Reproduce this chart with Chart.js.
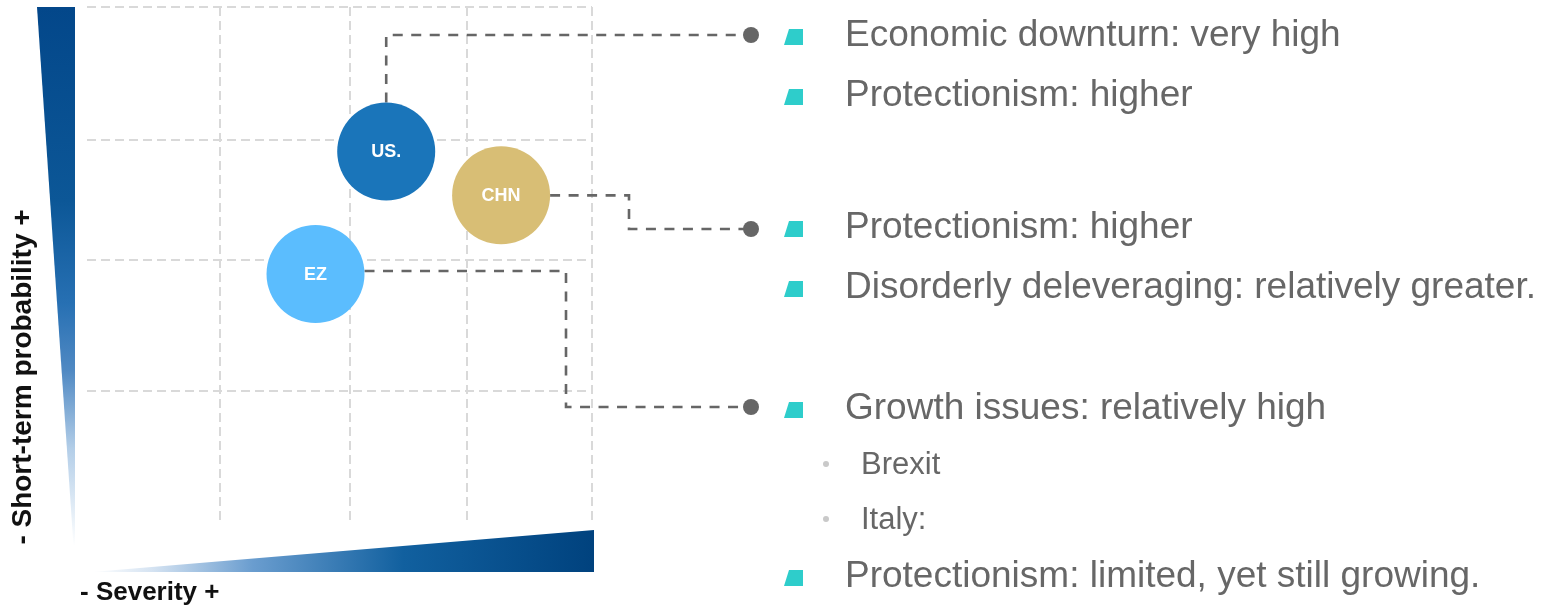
<!DOCTYPE html>
<html><head><meta charset="utf-8">
<script src="https://cdn.jsdelivr.net/npm/chart.js@4/dist/chart.umd.min.js"></script>
<style>html,body{margin:0;padding:0;background:#fff;overflow:hidden}#wrap{position:relative;width:1544px;height:606px}</style>
</head><body><div id="wrap"><canvas id="c" width="1544" height="606"></canvas></div>
<script>
// ---- data ----
const countries = ["US.", "CHN", "EZ"];
const severity = [2.37, 3.28, 1.81];
const probability = [2.88, 2.54, 1.93];
const bubbleRadius = [49, 49, 49];
const bubbleColors = ["#1A75BA", "#D8BE75", "#5BBDFE"];
const xGridTicks = [1.05, 2.08, 3.01, 4];
const yGridTicks = [1.02, 2.04, 2.97, 4];
const xAxisTitle = "- Severity +";
const yAxisTitle = "- Short-term probability +";
const usNotes = ["Economic downturn: very high", "Protectionism: higher"];
const chnNotes = ["Protectionism: higher", "Disorderly deleveraging: relatively greater."];
const ezNotes = ["Growth issues: relatively high"];
const ezSubNotes = ["Brexit", "Italy:"];
const ezNotes2 = ["Protectionism: limited, yet still growing."];

// ---- layout ----
const FONT = '"Liberation Sans", Arial, sans-serif';
const TEXT_X = 845, SUB_X = 861, BULLET_X = 784, SUBDOT_X = 826, DOT_X = 751;
const lines = [
  {t: usNotes[0], lvl: 1, y: 36},
  {t: usNotes[1], lvl: 1, y: 96},
  {t: chnNotes[0], lvl: 1, y: 228},
  {t: chnNotes[1], lvl: 1, y: 288},
  {t: ezNotes[0], lvl: 1, y: 409},
  {t: ezSubNotes[0], lvl: 2, y: 465},
  {t: ezSubNotes[1], lvl: 2, y: 520},
  {t: ezNotes2[0], lvl: 1, y: 577}
];
const links = [ // bubble index -> anchor line
  {i: 0, dotY: 35, route: 'up'},
  {i: 1, dotY: 229, route: 'right', elbowX: 629, dy: 0},
  {i: 2, dotY: 407, route: 'right', elbowX: 566, dy: -3}
];

const decorPlugin = {
  id: 'decor',
  beforeDraw(chart) {
    const ctx = chart.ctx, ca = chart.chartArea;
    ctx.save();
    // vertical gradient wedge
    const top = ca.top, bot = 546;
    let g = ctx.createLinearGradient(0, top, 0, bot);
    g.addColorStop(0, '#03478A'); g.addColorStop(0.36, '#0C5797'); g.addColorStop(0.55, '#2770B3');
    g.addColorStop(0.675, '#5089C3'); g.addColorStop(0.82, '#B3CEE8'); g.addColorStop(1, '#FFFFFF');
    ctx.fillStyle = g;
    ctx.beginPath();
    ctx.moveTo(37, top); ctx.lineTo(75, top); ctx.lineTo(75, bot); ctx.lineTo(73.5, bot); ctx.closePath(); ctx.fill();
    // horizontal gradient wedge
    const L = 92, R = 594, yb = 572, yt = 530;
    g = ctx.createLinearGradient(L, 0, R, 0);
    g.addColorStop(0, '#FFFFFF'); g.addColorStop(0.12, '#D5E3F2'); g.addColorStop(0.32, '#6A9DCF');
    g.addColorStop(0.62, '#11609F'); g.addColorStop(1, '#00427E');
    ctx.fillStyle = g;
    ctx.beginPath(); ctx.moveTo(L, yb); ctx.lineTo(R, yt); ctx.lineTo(R, yb); ctx.closePath(); ctx.fill();
    // axis titles
    ctx.fillStyle = '#111';
    ctx.textBaseline = 'middle';
    ctx.textAlign = 'left';
    ctx.font = 'bold 26px ' + FONT;
    ctx.fillText(xAxisTitle, 80, 593);
    ctx.font = 'bold 28px ' + FONT;
    ctx.translate(23, 377); ctx.rotate(-Math.PI / 2);
    ctx.textAlign = 'center';
    ctx.fillText(yAxisTitle, 0, 0);
    ctx.restore();
  },
  beforeDatasetsDraw(chart) {
    const ctx = chart.ctx, meta = chart.getDatasetMeta(0);
    ctx.save();
    ctx.strokeStyle = '#666'; ctx.lineWidth = 2.6; ctx.setLineDash([10, 8.5]);
    links.forEach(l => {
      const el = meta.data[l.i], r = bubbleRadius[l.i];
      ctx.beginPath();
      if (l.route === 'up') {
        ctx.moveTo(el.x, el.y - r); ctx.lineTo(el.x, l.dotY); ctx.lineTo(DOT_X, l.dotY);
      } else {
        const y0 = el.y + l.dy;
        ctx.moveTo(el.x + r, y0); ctx.lineTo(l.elbowX, y0); ctx.lineTo(l.elbowX, l.dotY); ctx.lineTo(DOT_X, l.dotY);
      }
      ctx.stroke();
    });
    ctx.setLineDash([]);
    ctx.fillStyle = '#666';
    links.forEach(l => { ctx.beginPath(); ctx.arc(DOT_X, l.dotY, 8, 0, Math.PI * 2); ctx.fill(); });
    ctx.restore();
  },
  afterDatasetsDraw(chart) {
    const ctx = chart.ctx, meta = chart.getDatasetMeta(0);
    ctx.save();
    ctx.fillStyle = '#fff'; ctx.font = 'bold 18px ' + FONT;
    ctx.textAlign = 'center'; ctx.textBaseline = 'middle';
    meta.data.forEach((el, i) => ctx.fillText(countries[i], el.x, el.y + 1));
    // notes
    ctx.textAlign = 'left';
    lines.forEach(l => {
      if (l.lvl === 1) {
        const cy = l.y + 1;
        ctx.fillStyle = '#2ECDCB';
        ctx.beginPath();
        ctx.moveTo(BULLET_X + 5, cy - 8); ctx.lineTo(BULLET_X + 19, cy - 8);
        ctx.lineTo(BULLET_X + 19, cy + 8); ctx.lineTo(BULLET_X, cy + 8); ctx.closePath(); ctx.fill();
        ctx.fillStyle = '#676767'; ctx.font = '37px ' + FONT;
        ctx.fillText(l.t, TEXT_X, l.y);
      } else {
        ctx.fillStyle = '#C9C9C9';
        ctx.beginPath(); ctx.arc(SUBDOT_X, l.y - 1, 3, 0, Math.PI * 2); ctx.fill();
        ctx.fillStyle = '#676767'; ctx.font = '31px ' + FONT;
        ctx.fillText(l.t, SUB_X, l.y);
      }
    });
    ctx.restore();
  }
};

const gridColor = '#D9D9D9';
new Chart(document.getElementById('c'), {
  type: 'bubble',
  data: {
    datasets: [{
      data: countries.map((c, i) => ({x: severity[i], y: probability[i], r: bubbleRadius[i]})),
      backgroundColor: bubbleColors,
      borderWidth: 0,
      hoverRadius: 0
    }]
  },
  options: {
    responsive: false,
    animation: false,
    events: [],
    layout: {autoPadding: false, padding: {left: 87, top: 7, right: 952, bottom: 83}},
    plugins: {legend: {display: false}, tooltip: {enabled: false}},
    scales: {
      x: {
        type: 'linear', min: 0, max: 4,
        afterBuildTicks: s => { s.ticks = xGridTicks.map(v => ({value: v})); },
        ticks: {display: false},
        grid: {color: gridColor, lineWidth: 2, drawTicks: false},
        border: {display: false, dash: [9, 5]}
      },
      y: {
        type: 'linear', min: 0, max: 4,
        afterBuildTicks: s => { s.ticks = yGridTicks.map(v => ({value: v})); },
        ticks: {display: false},
        grid: {color: gridColor, lineWidth: 2, drawTicks: false},
        border: {display: false, dash: [9, 5]}
      }
    }
  },
  plugins: [decorPlugin]
});
</script></body></html>
